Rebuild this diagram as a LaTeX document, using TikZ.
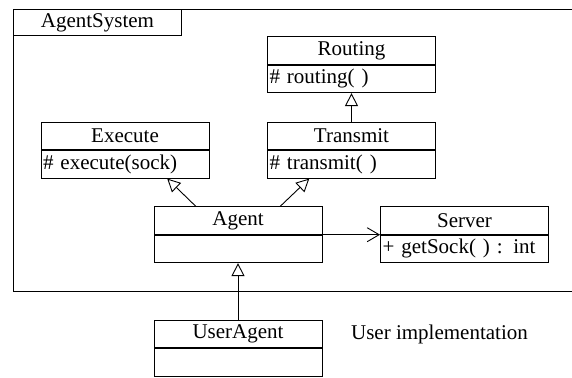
\documentclass[tikz,border=0pt]{standalone}
\usepackage{fontspec}
\setmainfont{Liberation Serif}
\usetikzlibrary{positioning,arrows.meta,calc}

\begin{document}
\begin{tikzpicture}[
  x=1pt, y=-1pt,
  cls/.style={rectangle, draw, line width=0.9pt, minimum width=168pt, minimum height=27.5pt, inner sep=2pt},
  ops/.style={cls, text width=164pt, align=left},
  gen/.style={-{Triangle[open,length=13pt,width=13pt]}, line width=0.9pt},
  uses/.style={-{Straight Barb[length=12pt,width=14pt]}, line width=0.9pt},
  font=\fontsize{21}{24}\selectfont
]
\useasboundingbox (0,0) rectangle (572,377);
\draw[line width=0.9pt] (13,9) rectangle (580,291);
\node[cls, anchor=north west, minimum height=26pt] (pkg) at (13,9) {AgentSystem};

\node[cls] (routing) at (351.5,50.5) {Routing};
\node[ops, below=0pt of routing] (routingops) {\# routing( )};
\node[cls] (execute) at (125,136) {Execute};
\node[ops, below=0pt of execute] (executeops) {\# execute(sock)};
\node[cls] (transmit) at (351.5,136) {Transmit};
\node[ops, below=0pt of transmit] (transmitops) {\# transmit( )};
\node[cls] (agent) at (238,220.5) {Agent};
\node[ops, below=0pt of agent] (agentops) {};
\node[cls] (server) at (464.5,220.5) {Server};
\node[ops, below=0pt of server] (serverops) {+ getSock( ) : int};
\node[cls] (useragent) at (238,334) {UserAgent};
\node[ops, below=0pt of useragent] (useragentops) {};
\node (userimpl) at (439.5,334) {User implementation};

\draw[gen] (transmit.north) -- (routingops.south);
\draw[gen] ($(agent.north west)!0.25!(agent.north east)$) -- ($(executeops.south west)!0.75!(executeops.south east)$);
\draw[gen] ($(agent.north west)!0.75!(agent.north east)$) -- ($(transmitops.south west)!0.25!(transmitops.south east)$);
\draw[uses] (agent.south east) -- (server.south west);
\draw[gen] (useragent.north) -- (agentops.south);
\end{tikzpicture}
\end{document}
